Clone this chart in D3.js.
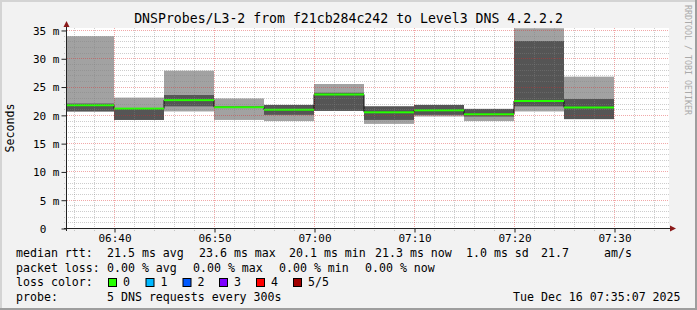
<!DOCTYPE html>
<html>
<head>
<meta charset="utf-8">
<script src="https://cdn.jsdelivr.net/npm/d3@7"></script>
<style>
  body { margin: 0; background: #f2f2f2; }
  svg { display: block; }
  text { font-family: "DejaVu Sans Mono", monospace; white-space: pre; }
</style>
</head>
<body>
<svg></svg>
<script>
const width = 697;
const height = 310;
const plot = { left: 67, right: 669, top: 28, bottom: 228 };

// 5 minute steps, 5 DNS pings each (sorted: min, 2nd, median, 4th, max), ms
const steps = ['06:35', '06:40', '06:45', '06:50', '06:55', '07:00', '07:05', '07:10', '07:15', '07:20', '07:25'];
const minRtt = [20.6, 19.1, 20.6, 19.1, 18.9, 20.7, 18.4, 19.7, 18.9, 20.6, 19.25];
const lowRtt = [20.6, 19.1, 21.5, 21.2, 20.0, 20.7, 19.1, 20.0, 19.7, 21.5, 19.25];
const medianRtt = [21.7, 21.1, 22.6, 21.35, 20.9, 23.6, 20.45, 20.8, 20.1, 22.45, 21.3];
const highRtt = [22.0, 21.2, 23.5, 21.5, 21.75, 23.9, 21.5, 21.75, 21.05, 33.05, 22.8];
const maxRtt = [33.9, 23.05, 27.8, 22.9, 21.75, 25.45, 21.5, 21.75, 21.05, 35.3, 26.75];
const lossCount = [0, 0, 0, 0, 0, 0, 0, 0, 0, 0, 0];

const yTicks = [0, 5, 10, 15, 20, 25, 30, 35];
const xTicks = ['06:40', '06:50', '07:00', '07:10', '07:20', '07:30'];

const lossLabels = ['0', '1', '2', '3', '4', '5/5'];
const lossColors = ['#26ff00', '#00b8ff', '#0059ff', '#7e00ff', '#ff0000', '#a00000'];

const parse = d3.timeParse('%Y-%m-%d %H:%M:%S');
const t = s => parse('2025-12-16 ' + (s.length === 5 ? s + ':00' : s));

const rows = steps.map((s, i) => ({
  start: t(s),
  end: d3.timeMinute.offset(t(s), 5),
  min: minRtt[i], low: lowRtt[i], med: medianRtt[i], high: highRtt[i], max: maxRtt[i],
  loss: lossCount[i]
}));

const svg = d3.select('svg')
  .attr('width', width)
  .attr('height', height);

// frame
svg.append('rect').attr('width', width).attr('height', height).attr('fill', '#f2f2f2');
svg.append('rect').attr('x', 0).attr('y', 0).attr('width', width).attr('height', 2).attr('fill', '#d4d4d4');
svg.append('rect').attr('x', 0).attr('y', 0).attr('width', 2).attr('height', height).attr('fill', '#d4d4d4');
svg.append('rect').attr('x', 0).attr('y', height - 2).attr('width', width).attr('height', 2).attr('fill', '#9e9e9e');
svg.append('rect').attr('x', width - 2).attr('y', 0).attr('width', 2).attr('height', height).attr('fill', '#9e9e9e');

const x = d3.scaleTime()
  .domain([t('06:35:18'), t('07:35:30')])
  .range([plot.left, plot.right]);

const y = d3.scaleLinear()
  .domain([0, 35.35])
  .range([plot.bottom, plot.top]);

svg.append('rect')
  .attr('x', plot.left).attr('y', plot.top)
  .attr('width', plot.right - plot.left).attr('height', plot.bottom - plot.top)
  .attr('fill', '#fff');

svg.append('clipPath').attr('id', 'clip')
  .append('rect')
  .attr('x', plot.left).attr('y', plot.top)
  .attr('width', plot.right - plot.left).attr('height', plot.bottom - plot.top);

const g = svg.append('g').attr('clip-path', 'url(#clip)');

// smoke: outer range, then inner range
g.selectAll('rect.outer')
  .data(rows).enter().append('rect')
  .attr('class', 'outer')
  .attr('x', d => x(d.start)).attr('width', d => x(d.end) - x(d.start))
  .attr('y', d => y(d.max)).attr('height', d => y(d.min) - y(d.max))
  .attr('fill', '#a2a2a2');

g.selectAll('rect.inner')
  .data(rows).enter().append('rect')
  .attr('class', 'inner')
  .attr('x', d => x(d.start)).attr('width', d => x(d.end) - x(d.start))
  .attr('y', d => y(d.high)).attr('height', d => y(d.low) - y(d.high))
  .attr('fill', '#555555');

// median step line
const medLine = d3.line()
  .x(d => x(d.t)).y(d => y(d.v))
  .curve(d3.curveStepAfter);
const medPts = rows.map(d => ({ t: d.start, v: d.med }));
medPts.push({ t: rows[rows.length - 1].end, v: rows[rows.length - 1].med });

g.append('path')
  .attr('d', medLine(medPts))
  .attr('fill', 'none')
  .attr('stroke', '#111')
  .attr('stroke-width', 1);

g.selectAll('rect.med')
  .data(rows).enter().append('rect')
  .attr('class', 'med')
  .attr('x', d => x(d.start)).attr('width', d => x(d.end) - x(d.start))
  .attr('y', d => y(d.med) - 1).attr('height', 2)
  .attr('fill', d => lossColors[d.loss]);

// grid
const minorY = d3.range(1, 36).filter(v => v % 5 !== 0);
const minorX = d3.timeMinute.every(2).range(x.domain()[0], x.domain()[1]).filter(d => d.getMinutes() % 10 !== 0);
const majorX = xTicks.map(t);

const grid = svg.append('g').attr('shape-rendering', 'crispEdges');
grid.selectAll('line.hminor').data(minorY).enter().append('line')
  .attr('x1', plot.left - 3).attr('x2', plot.right)
  .attr('y1', d => Math.round(y(d)) + 0.5).attr('y2', d => Math.round(y(d)) + 0.5)
  .attr('stroke', 'rgba(130,130,130,0.4)').attr('stroke-dasharray', '1,1');
grid.selectAll('line.vminor').data(minorX).enter().append('line')
  .attr('y1', plot.top).attr('y2', plot.bottom + 3)
  .attr('x1', d => Math.round(x(d)) + 0.5).attr('x2', d => Math.round(x(d)) + 0.5)
  .attr('stroke', 'rgba(130,130,130,0.4)').attr('stroke-dasharray', '1,1');
grid.selectAll('line.hmajor').data(yTicks.filter(v => v > 0)).enter().append('line')
  .attr('x1', plot.left).attr('x2', plot.right)
  .attr('y1', d => Math.round(y(d)) + 0.5).attr('y2', d => Math.round(y(d)) + 0.5)
  .attr('stroke', 'rgba(220,40,40,0.4)').attr('stroke-dasharray', '1,1');
grid.selectAll('line.vmajor').data(majorX).enter().append('line')
  .attr('y1', plot.top).attr('y2', plot.bottom)
  .attr('x1', d => Math.round(x(d)) + 0.5).attr('x2', d => Math.round(x(d)) + 0.5)
  .attr('stroke', 'rgba(220,40,40,0.4)').attr('stroke-dasharray', '1,1');

// axes
const yAxis = d3.axisLeft(y)
  .tickValues(yTicks)
  .tickSize(5)
  .tickPadding(2)
  .tickFormat(d => d === 0 ? '0  ' : d + ' m');

const xAxis = d3.axisBottom(x)
  .tickValues(majorX)
  .tickSize(4)
  .tickPadding(1)
  .tickFormat(d3.timeFormat('%H:%M'));

const ya = svg.append('g')
  .attr('transform', `translate(${plot.left - 0.5},0.5)`)
  .call(yAxis);
ya.select('.domain').remove();

const xa = svg.append('g')
  .attr('transform', `translate(0.5,${plot.bottom + 0.5})`)
  .call(xAxis);
xa.select('.domain').remove();

[ya, xa].forEach(a => {
  a.selectAll('text').attr('font-size', 11).attr('font-family', '"DejaVu Sans Mono", monospace').attr('fill', '#000');
  a.selectAll('line').attr('stroke', '#222');
});
xa.selectAll('text').attr('dy', '0.8em');
ya.selectAll('text').attr('dy', '0.35em');

svg.append('line')
  .attr('x1', plot.left - 0.5).attr('x2', plot.left - 0.5)
  .attr('y1', plot.top - 4).attr('y2', plot.bottom + 3)
  .attr('stroke', '#222');
svg.append('line')
  .attr('x1', plot.left - 3).attr('x2', plot.right + 4)
  .attr('y1', plot.bottom + 0.5).attr('y2', plot.bottom + 0.5)
  .attr('stroke', '#222');

// arrows
svg.append('path')
  .attr('d', `M${plot.left - 3.5},${plot.top - 1} L${plot.left + 2.5},${plot.top - 1} L${plot.left - 0.5},${plot.top - 7} Z`)
  .attr('fill', '#8b1a1a');
svg.append('path')
  .attr('d', `M${plot.right + 1},${plot.bottom - 2.5} L${plot.right + 1},${plot.bottom + 3.5} L${plot.right + 7},${plot.bottom + 0.5} Z`)
  .attr('fill', '#8b1a1a');

// titles
svg.append('text')
  .attr('x', width / 2).attr('y', 23)
  .attr('text-anchor', 'middle')
  .attr('font-size', 13.2)
  .text('DNSProbes/L3-2 from f21cb284c242 to Level3 DNS 4.2.2.2');

svg.append('text')
  .attr('transform', 'translate(14,128) rotate(-90)')
  .attr('text-anchor', 'middle')
  .attr('font-size', 11.6)
  .text('Seconds');

svg.append('text')
  .attr('transform', 'translate(685,5) rotate(90)')
  .attr('font-size', 8.3)
  .attr('fill', '#aaa')
  .text('RRDTOOL / TOBI OETIKER');

// legend
const legendRows = [
  [[16, 'median rtt:'], [107, '21.5 ms avg'], [199, '23.6 ms max'], [289, '20.1 ms min'], [375, '21.3 ms now'], [466, '1.0 ms sd'], [541, '21.7'], [604, 'am/s']],
  [[16, 'packet loss:'], [107, '0.00 % avg'], [193, '0.00 % max'], [279, '0.00 % min'], [365, '0.00 % now']],
  [[16, 'loss color:']],
  [[16, 'probe:'], [107, '5 DNS requests every 300s'], [513, 'Tue Dec 16 07:35:07 2025']]
];
const legendY = [257, 271.5, 286, 300.5];

legendRows.forEach((row, i) => {
  row.forEach(([lx, s]) => {
    svg.append('text')
      .attr('x', lx).attr('y', legendY[i])
      .attr('font-size', 11.6)
      .text(s);
  });
});

const lossX = [108, 145.5, 182.5, 219, 256, 293];
lossLabels.forEach((s, i) => {
  svg.append('rect')
    .attr('x', lossX[i] + 0.5).attr('y', 278.5)
    .attr('width', 8).attr('height', 8)
    .attr('fill', lossColors[i])
    .attr('stroke', '#000');
  svg.append('text')
    .attr('x', lossX[i] + 15).attr('y', legendY[2])
    .attr('font-size', 11.6)
    .text(s);
});
</script>
</body>
</html>
